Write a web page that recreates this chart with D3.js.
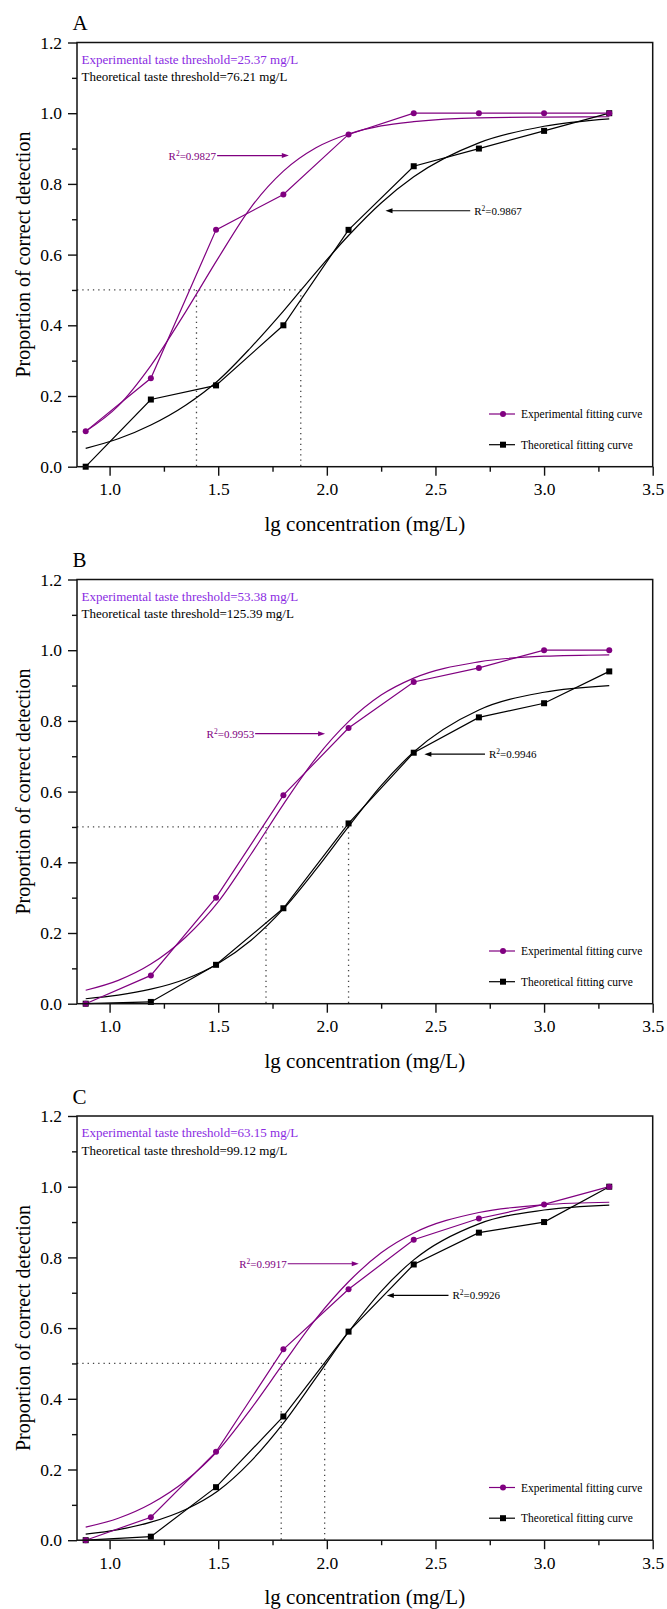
<!DOCTYPE html>
<html>
<head>
<meta charset="utf-8">
<script src="https://d3js.org/d3.v7.min.js"></script>
<style>
body { margin: 0; background: #fff; }
svg, svg text { font-family: "Liberation Serif", "Times New Roman", serif !important; }
</style>
</head>
<body>
<svg id="chart" width="667" height="1609"></svg>
<script>
// lg concentration (mg/L) of the tasting series
const lgConc = [0.89, 1.19, 1.49, 1.80, 2.10, 2.40, 2.70, 3.00, 3.30];
const fitX = [0.89, 1.04, 1.19, 1.35, 1.50, 1.65, 1.80, 1.95, 2.10, 2.25, 2.40, 2.70, 3.00, 3.30];

const expA = [0.10, 0.25, 0.67, 0.77, 0.94, 1.00, 1.00, 1.00, 1.00];
const theoA = [0.00, 0.19, 0.23, 0.40, 0.67, 0.85, 0.90, 0.95, 1.00];
const fitExpA = [0.100, 0.172, 0.286, 0.438, 0.590, 0.733, 0.836, 0.902, 0.941, 0.964, 0.976, 0.987, 0.989, 0.990];
const fitTheoA = [0.052, 0.079, 0.118, 0.174, 0.244, 0.337, 0.440, 0.550, 0.654, 0.746, 0.820, 0.916, 0.963, 0.984];

const expB = [0.00, 0.08, 0.30, 0.59, 0.78, 0.91, 0.95, 1.00, 1.00];
const theoB = [0.00, 0.005, 0.11, 0.27, 0.51, 0.71, 0.81, 0.85, 0.94];
const fitExpB = [0.038, 0.066, 0.112, 0.188, 0.288, 0.422, 0.564, 0.695, 0.798, 0.873, 0.921, 0.967, 0.983, 0.987];
const fitTheoB = [0.014, 0.024, 0.041, 0.070, 0.114, 0.179, 0.268, 0.380, 0.501, 0.617, 0.712, 0.831, 0.881, 0.900];

const expC = [0.00, 0.065, 0.25, 0.54, 0.71, 0.85, 0.91, 0.95, 1.00];
const theoC = [0.00, 0.01, 0.15, 0.35, 0.59, 0.78, 0.87, 0.90, 1.00];
const fitExpC = [0.037, 0.062, 0.103, 0.168, 0.254, 0.371, 0.500, 0.626, 0.731, 0.813, 0.869, 0.927, 0.949, 0.956];
const fitTheoC = [0.017, 0.030, 0.051, 0.087, 0.140, 0.223, 0.331, 0.459, 0.589, 0.704, 0.793, 0.895, 0.934, 0.948];

const panelNames = ["A", "B", "C"];
const expThresholdText = ["25.37", "53.38", "63.15"];
const theoThresholdText = ["76.21", "125.39", "99.12"];
// lg threshold where each fit crosses 0.5: [experimental, theoretical]
const thresholdLg = [[1.40, 1.88], [1.72, 2.10], [1.79, 1.99]];
// R² labels: [experimental, theoretical]
const r2Text = [["0.9827", "0.9867"], ["0.9953", "0.9946"], ["0.9917", "0.9926"]];
// arrow tip / tail (lg) and level (proportion): [experimental, theoretical]
const r2Arrows = [
  [{tip: 1.825, tail: 1.495, y: 0.880}, {tip: 2.27, tail: 2.66, y: 0.724}],
  [{tip: 1.992, tail: 1.670, y: 0.764}, {tip: 2.449, tail: 2.728, y: 0.706}],
  [{tip: 2.147, tail: 1.820, y: 0.782}, {tip: 2.276, tail: 2.560, y: 0.6925}]
];
const xTicks = [1.0, 1.5, 2.0, 2.5, 3.0, 3.5];
const yTicks = [0.0, 0.2, 0.4, 0.6, 0.8, 1.0, 1.2];

const panels = [
  {exp: expA, theo: theoA, fitExp: fitExpA, fitTheo: fitTheoA},
  {exp: expB, theo: theoB, fitExp: fitExpB, fitTheo: fitTheoB},
  {exp: expC, theo: theoC, fitExp: fitExpC, fitTheo: fitTheoC}
];

const purple = "#800080";
const violet = "#8a2be2";
const svg = d3.select("#chart");
svg.append("rect").attr("width", 667).attr("height", 1609).attr("fill", "#fff");

const left = 77, right = 652.7, plotH = 424.2;
const tops = [42.5, 579.5, 1116];

const x = d3.scaleLinear().domain([0.85, 3.5]).range([left, right]);
const y = d3.scaleLinear().domain([0, 1.2]).range([plotH, 0]);

const minorX = d3.range(1.25, 3.5, 0.5);
const minorY = d3.range(0.1, 1.2, 0.2);

panels.forEach((p, i) => {
  const g = svg.append("g").attr("transform", "translate(0," + tops[i] + ")");

  // dotted threshold guides
  const guides = g.append("g").attr("stroke", "#444").attr("stroke-width", 1.3)
    .attr("stroke-dasharray", "1.3,4").attr("fill", "none");
  guides.append("line").attr("x1", x(0.85)).attr("x2", x(thresholdLg[i][1]))
    .attr("y1", y(0.5)).attr("y2", y(0.5));
  thresholdLg[i].forEach(t => {
    guides.append("line").attr("x1", x(t)).attr("x2", x(t)).attr("y1", y(0.5)).attr("y2", y(0));
  });

  const fitLine = d3.line().x((d, k) => x(fitX[k])).y(d => y(d)).curve(d3.curveMonotoneX);
  const dataLine = d3.line().x((d, k) => x(lgConc[k])).y(d => y(d));

  g.append("path").attr("d", fitLine(p.fitTheo)).attr("fill", "none").attr("stroke", "#000").attr("stroke-width", 1.2);
  g.append("path").attr("d", fitLine(p.fitExp)).attr("fill", "none").attr("stroke", purple).attr("stroke-width", 1.2);
  g.append("path").attr("d", dataLine(p.theo)).attr("fill", "none").attr("stroke", "#000").attr("stroke-width", 1.2);
  g.append("path").attr("d", dataLine(p.exp)).attr("fill", "none").attr("stroke", purple).attr("stroke-width", 1.2);

  g.selectAll("rect.sq").data(p.theo).join("rect").attr("class", "sq")
    .attr("x", (d, k) => x(lgConc[k]) - 3).attr("y", d => y(d) - 3)
    .attr("width", 6).attr("height", 6).attr("fill", "#000");
  g.selectAll("circle.pt").data(p.exp).join("circle").attr("class", "pt")
    .attr("cx", (d, k) => x(lgConc[k])).attr("cy", d => y(d)).attr("r", 3).attr("fill", purple);

  // frame
  g.append("rect").attr("x", left).attr("y", 0).attr("width", right - left).attr("height", plotH)
    .attr("fill", "none").attr("stroke", "#111").attr("stroke-width", 1.5);

  // axes
  const xAxis = g.append("g").attr("transform", "translate(0," + plotH + ")")
    .call(d3.axisBottom(x).tickValues(xTicks).tickFormat(d3.format(".1f")).tickSize(9).tickSizeOuter(0));
  xAxis.append("g").call(d3.axisBottom(x).tickValues(minorX).tickFormat("").tickSize(5).tickSizeOuter(0));
  const yAxis = g.append("g").attr("transform", "translate(" + left + ",0)")
    .call(d3.axisLeft(y).tickValues(yTicks).tickFormat(d3.format(".1f")).tickSize(9).tickSizeOuter(0));
  yAxis.append("g").call(d3.axisLeft(y).tickValues(minorY).tickFormat("").tickSize(5).tickSizeOuter(0));
  g.selectAll(".domain").remove();
  xAxis.attr("font-family", null);
  yAxis.attr("font-family", null);
  g.selectAll(".tick line").attr("stroke", "#111").attr("stroke-width", 1.4);
  g.selectAll(".tick text").attr("font-size", 17.5).attr("fill", "#000");
  xAxis.selectAll(".tick text").attr("y", 16);
  yAxis.selectAll(".tick text").attr("x", -15);

  // axis titles
  g.append("text").attr("x", (left + right) / 2).attr("y", plotH + 64)
    .attr("text-anchor", "middle").attr("font-size", 21).text("lg concentration (mg/L)");
  g.append("text").attr("transform", "translate(30," + plotH / 2 + ") rotate(-90)")
    .attr("text-anchor", "middle").attr("font-size", 20).text("Proportion of correct detection");
  g.append("text").attr("x", 72.5).attr("y", -12.5).attr("font-size", 21).text(panelNames[i]);

  // threshold notes
  g.append("text").attr("x", left + 4.5).attr("y", 21).attr("font-size", 13).attr("fill", violet)
    .text("Experimental taste threshold=" + expThresholdText[i] + " mg/L");
  g.append("text").attr("x", left + 4.5).attr("y", 38.5).attr("font-size", 13).attr("fill", "#000")
    .text("Theoretical taste threshold=" + theoThresholdText[i] + " mg/L");

  // R² arrows
  r2Arrows[i].forEach((a, j) => {
    const col = j === 0 ? purple : "#000";
    const yy = y(a.y);
    const dir = a.tip > a.tail ? 1 : -1;
    g.append("line").attr("x1", x(a.tail)).attr("x2", x(a.tip) - dir * 5).attr("y1", yy).attr("y2", yy)
      .attr("stroke", col).attr("stroke-width", 1.1);
    const tx = x(a.tip);
    g.append("path").attr("d", "M" + tx + "," + yy + "L" + (tx - dir * 7) + "," + (yy - 2.5) + "L" + (tx - dir * 7) + "," + (yy + 2.5) + "Z")
      .attr("fill", col);
    const t = g.append("text").attr("y", yy + 4).attr("font-size", 11).attr("fill", col)
      .attr("x", dir === 1 ? x(a.tail) - 1 : x(a.tail) + 4)
      .attr("text-anchor", dir === 1 ? "end" : "start");
    t.append("tspan").text("R");
    t.append("tspan").attr("dy", -4).attr("font-size", 7.5).text("2");
    t.append("tspan").attr("dy", 4).text("=" + r2Text[i][j]);
  });

  // legend
  const leg = g.append("g").attr("font-size", 11.5);
  [["Experimental fitting curve", purple, 371.5], ["Theoretical fitting curve", "#000", 402.2]].forEach((r, j) => {
    leg.append("line").attr("x1", left + 412).attr("x2", left + 438).attr("y1", r[2]).attr("y2", r[2])
      .attr("stroke", r[1]).attr("stroke-width", 1.2);
    if (j === 0) leg.append("circle").attr("cx", left + 426).attr("cy", r[2]).attr("r", 3).attr("fill", r[1]);
    else leg.append("rect").attr("x", left + 423).attr("y", r[2] - 3).attr("width", 6).attr("height", 6).attr("fill", r[1]);
    leg.append("text").attr("x", left + 444).attr("y", r[2] + 4).attr("fill", "#000").text(r[0]);
  });
});
</script>
</body>
</html>
